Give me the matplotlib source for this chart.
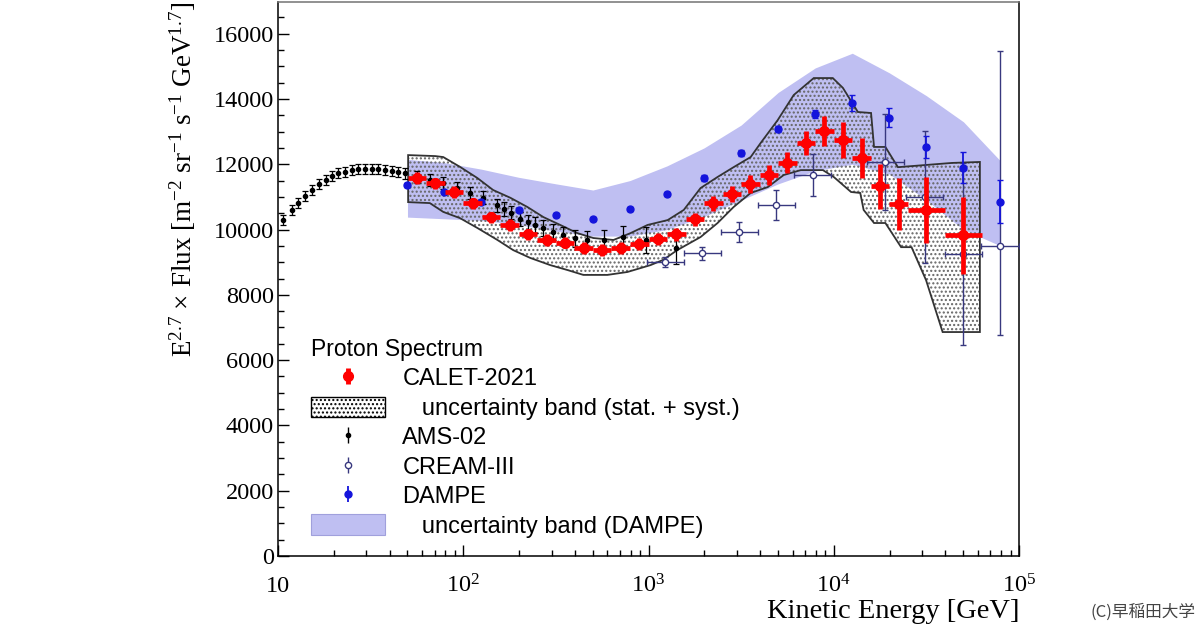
import numpy as np
import matplotlib
matplotlib.use("Agg")
import matplotlib.pyplot as plt
from matplotlib.lines import Line2D
from matplotlib.patches import Patch
from matplotlib.ticker import MultipleLocator, LogLocator, FuncFormatter, NullFormatter

# ---- data ----
# CALET-2021 (bin edges in GeV, flux x E^2.7, stat. error)
calet_edges = np.array([50.1, 63.1, 79.4, 100, 125.9, 158.5, 199.5, 251.2, 316.2, 398.1,
                        501.2, 631, 794.3, 1000, 1259, 1585, 1995, 2512, 3162, 3981,
                        5012, 6310, 7943, 10000, 12589, 15849, 19953, 25119, 39811, 63096])
calet_flux = np.array([11580, 11420, 11150, 10810, 10380, 10140, 9860, 9680, 9590, 9430,
                       9370, 9430, 9560, 9710, 9860, 10320, 10810, 11090, 11390, 11670,
                       12040, 12650, 13020, 12740, 12190, 11330, 10780, 10600, 9830])
calet_err = np.array([170, 170, 170, 170, 170, 170, 170, 170, 170, 180,
                      180, 180, 190, 190, 200, 200, 230, 250, 270, 300,
                      320, 370, 450, 550, 620, 690, 800, 1000, 1180])

# CALET uncertainty band (stat. + syst.) outline
band_hi_E = [50.4, 70.6, 78, 96, 119, 145, 180, 222, 271, 334, 413, 504, 647, 800, 988,
             1270, 1550, 1910, 2360, 2880, 3560, 4030, 4980, 6080, 7800, 9880, 11200,
             13500, 15900, 16500, 19000, 22200, 43400, 61500]
band_hi = [12280, 12250, 12220, 11920, 11580, 11210, 10970, 10690, 10380, 10140, 9890, 9740,
           9680, 9890, 10140, 10290, 10600, 11270, 11610, 11910, 12220, 12650, 13350, 14120,
           14640, 14640, 14340, 13600, 13570, 12530, 12530, 11910, 12040, 12070]
band_lo_E = [50.4, 66, 78, 96, 119, 153, 186, 230, 295, 365, 445, 600, 770, 1025, 1200,
             1430, 1910, 2360, 2880, 3560, 4400, 5370, 6640, 8740, 10000, 12400, 13900,
             14500, 16500, 19000, 23100, 26300, 31500, 38700, 61500]
band_lo = [10840, 10810, 10540, 10350, 10050, 9680, 9370, 9130, 8910, 8760, 8610, 8610,
           8700, 8910, 9070, 9370, 9770, 10200, 10690, 11120, 11300, 11670, 11820, 11820,
           11610, 11150, 11120, 10600, 10200, 10200, 9460, 9460, 8450, 6860, 6860]

# AMS-02
ams_E = [10.6, 11.9, 12.8, 14.0, 15.3, 16.6, 18.2, 19.6, 21.1, 23.0, 25.1, 27.1, 29.5,
         32.2, 34.7, 37.9, 41.3, 44.6, 48.6, 56, 66, 78, 93, 109, 128, 153, 165, 180,
         203, 224, 245, 271, 306, 345, 402, 466, 578, 725, 970, 1410]
ams_flux = [10290, 10600, 10810, 11030, 11210, 11390, 11520, 11640, 11730, 11760, 11820,
            11850, 11850, 11850, 11850, 11820, 11790, 11760, 11730, 11610, 11520, 11420,
            11270, 11120, 10970, 10750, 10620, 10520, 10330, 10220, 10140, 10050, 9920,
            9830, 9740, 9680, 9680, 9770, 9680, 9430]
ams_err = [160, 160, 160, 160, 160, 160, 160, 160, 160, 160, 160, 160, 160, 160, 160, 160,
           160, 160, 170, 180, 180, 180, 190, 190, 200, 200, 210, 210, 220, 230, 240, 250,
           250, 260, 260, 270, 300, 350, 400, 500]

# CREAM-III
cream_E = np.array([1235, 1950, 3090, 4890, 7700, 19000, 31000, 50000, 79000])
cream_lo = np.array([980, 1550, 2450, 3880, 6100, 15100, 24600, 39700, 62700])
cream_hi = np.array([1550, 2450, 3880, 6150, 9700, 23900, 39000, 63000, 99500])
cream_flux = [9000, 9280, 9920, 10750, 11670, 12070, 11000, 9250, 9500]
cream_err_dn = [150, 200, 300, 450, 650, 1460, 2020, 2790, 2730]
cream_err_up = [150, 200, 300, 450, 650, 1460, 2020, 2790, 5970]

# DAMPE
dampe_E = [50, 79, 125, 199, 316, 501, 794, 1259, 1995, 3162, 5012, 7943, 12589, 19953,
           31623, 50119, 79433]
dampe_flux = [11360, 11150, 10850, 10600, 10440, 10320, 10630, 11090, 11580, 12340, 13080,
              13540, 13880, 13420, 12530, 11900, 10850]
dampe_err = [60, 60, 60, 60, 60, 60, 60, 70, 80, 90, 100, 120, 250, 290, 330, 480, 660]
dampe_band_lo = [10380, 10330, 10280, 10150, 9950, 9800, 9800, 10000, 10400, 10900, 11400,
                 11800, 12000, 11700, 10900, 10000, 9500]
dampe_band_hi = [12150, 12050, 11850, 11600, 11400, 11210, 11500, 11950, 12500, 13200,
                 14200, 14950, 15400, 14800, 14100, 13300, 12100]

RED = "#ff0000"
CREAM_C = "#38387f"
DAMPE_C = "#1414dc"
BAND_BLUE = "#bfbff2"

plt.rcParams['font.family'] = ['Liberation Serif', 'DejaVu Serif']
plt.rcParams['mathtext.default'] = 'regular'
plt.rcParams['hatch.linewidth'] = 1.0

fig = plt.figure(figsize=(12, 6.3), dpi=100)
ax = fig.add_axes([278 / 1200, 74 / 630, 741 / 1200, 554.5 / 630])

# DAMPE band
ax.fill_between(dampe_E, dampe_band_lo, dampe_band_hi, color=BAND_BLUE, lw=0, zorder=1)

# CALET band: dotted hatch + outline
poly_x = list(band_hi_E) + list(band_lo_E[::-1])
poly_y = list(band_hi) + list(band_lo[::-1])
ax.fill(poly_x, poly_y, facecolor='none', edgecolor='0.4', hatch='....', lw=0, zorder=2)
ax.fill(poly_x, poly_y, facecolor='none', edgecolor='0.2', lw=1.3, zorder=3)

ax.errorbar(ams_E, ams_flux, yerr=ams_err, fmt='o', ms=3, color='black',
            elinewidth=0.9, capsize=2.5, capthick=0.9, zorder=4)
ax.errorbar(cream_E, cream_flux, xerr=[cream_E - cream_lo, cream_hi - cream_E],
            yerr=[cream_err_dn, cream_err_up],
            fmt='o', ms=4.5, mfc='white', mec=CREAM_C, mew=1.0, color=CREAM_C,
            elinewidth=1.0, capsize=2.5, capthick=1.0, zorder=4)
ax.errorbar(dampe_E, dampe_flux, yerr=dampe_err, fmt='o', ms=5, color=DAMPE_C,
            elinewidth=1.3, capsize=2.5, capthick=1.0, zorder=5)

calet_E = np.sqrt(calet_edges[:-1] * calet_edges[1:])
ax.errorbar(calet_E, calet_flux,
            xerr=[calet_E - calet_edges[:-1], calet_edges[1:] - calet_E],
            yerr=calet_err, fmt='o', ms=7, color=RED, elinewidth=3.4, capsize=0, zorder=6)

# axes styling (ROOT look)
ax.set_xscale('log')
ax.set_xlim(10, 1e5)
ax.set_ylim(0, 16985)
ax.xaxis.set_major_locator(LogLocator(base=10, numticks=10))
ax.xaxis.set_minor_locator(LogLocator(base=10, subs=np.arange(2, 10), numticks=20))
ax.xaxis.set_minor_formatter(NullFormatter())
ax.xaxis.set_major_formatter(FuncFormatter(
    lambda v, p: '10' if round(v) == 10 else r'$10^{%d}$' % round(np.log10(v))))
ax.yaxis.set_major_locator(MultipleLocator(2000))
ax.yaxis.set_minor_locator(MultipleLocator(500))
ax.tick_params(which='both', direction='in', top=False, right=False, labelsize=17.5, width=1)
ax.tick_params(which='major', length=8)
ax.tick_params(which='minor', length=4.5)
ax.tick_params(axis='y', pad=3)
ax.tick_params(axis='x', which='major', pad=26)
for t in ax.xaxis.get_major_ticks():
    t.label1.set_verticalalignment('baseline')
for s in ('left', 'bottom', 'right', 'top'):
    ax.spines[s].set_linewidth(1.1)
ax.spines['top'].set_color('0.45')

ax.text(-0.1284, 1.0, r'E$^{2.7}$ × Flux [m$^{-2}$ sr$^{-1}$ s$^{-1}$ GeV$^{1.7}$]',
        rotation=90, ha='center', va='top', transform=ax.transAxes, fontsize=19.5)
ax.text(1.0, -0.1007, 'Kinetic Energy [GeV]', ha='right', va='center',
        transform=ax.transAxes, fontsize=20.5)

# legend
h_calet = (Line2D([], [], ls='none', marker='|', ms=12, mew=3.5, color=RED),
           Line2D([], [], ls='none', marker='o', ms=7, color=RED))
h_band = Patch(facecolor='white', edgecolor='black', hatch='....', lw=1)
h_ams = (Line2D([], [], ls='none', marker='|', ms=12, mew=1, color='black'),
         Line2D([], [], ls='none', marker='o', ms=3, color='black'))
h_cream = (Line2D([], [], ls='none', marker='|', ms=12, mew=1, color=CREAM_C),
           Line2D([], [], ls='none', marker='o', ms=4.5, mfc='white', mec=CREAM_C))
h_dampe = (Line2D([], [], ls='none', marker='|', ms=12, mew=1.3, color=DAMPE_C),
           Line2D([], [], ls='none', marker='o', ms=5, color=DAMPE_C))
h_dband = Patch(facecolor=BAND_BLUE, edgecolor='#a0a0dc', lw=0.8)
labels = ['CALET-2021', '   uncertainty band (stat. + syst.)', 'AMS-02', 'CREAM-III',
          'DAMPE', '   uncertainty band (DAMPE)']
leg = ax.legend([h_calet, h_band, h_ams, h_cream, h_dampe, h_dband], labels,
                title='Proton Spectrum', loc='upper left',
                bbox_to_anchor=(0.2595, 0.4635), bbox_transform=fig.transFigure,
                frameon=False, prop={'family': 'Liberation Sans', 'size': 17},
                title_fontproperties={'family': 'Liberation Sans', 'size': 16.5},
                alignment='left', handlelength=3.1, handleheight=0.95,
                handletextpad=0.75, labelspacing=0.26, borderpad=0, borderaxespad=0)
leg.set_zorder(10)

fig.text(0.996, 0.028, '(C)早稲田大学', ha='right', va='center', fontsize=12,
         color='#444444', family=['Noto Sans CJK JP', 'DejaVu Sans'])

fig.savefig('out.png', dpi=100)
